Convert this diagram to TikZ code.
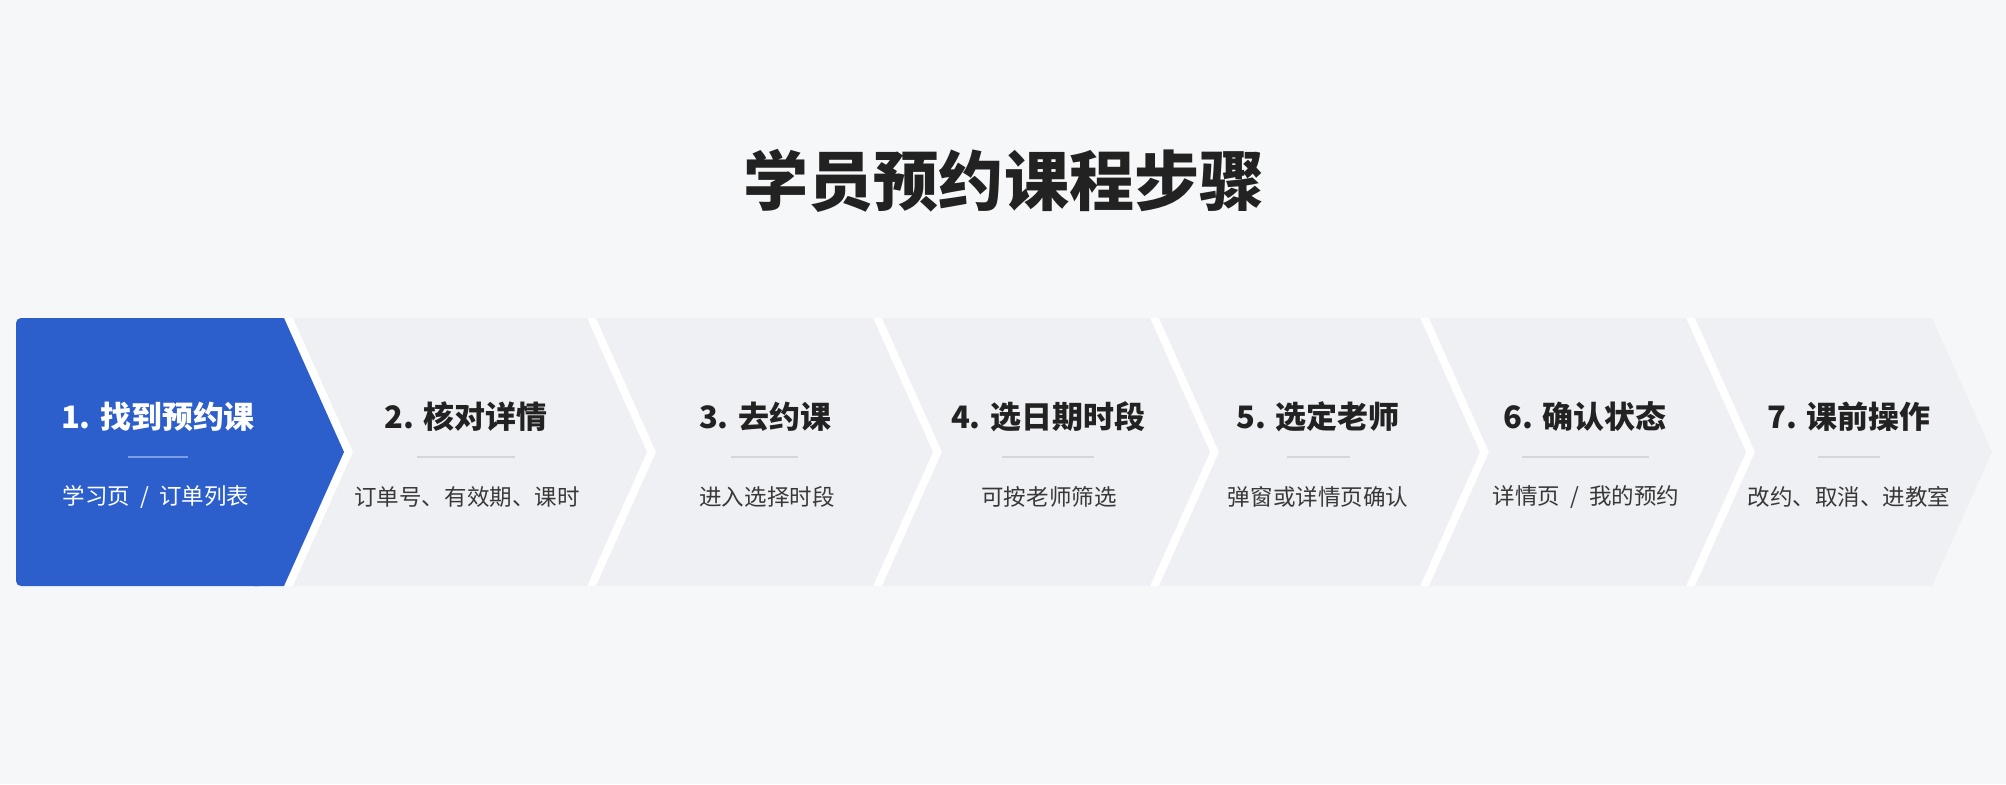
\documentclass[tikz,border=0pt]{standalone}
\usepackage{fontspec}
\setmainfont{Noto Sans CJK SC}
\usetikzlibrary{calc}

\definecolor{pagebg}{HTML}{F6F7F9}
\definecolor{stepblue}{HTML}{2C5FCC}
\definecolor{stepgray}{HTML}{EEF0F4}
\definecolor{inkdark}{HTML}{222222}
\definecolor{rulegray}{HTML}{D3D7DD}
\definecolor{ruleblue}{HTML}{7D9CE8}

\tikzset{
  headline/.style={font=\bfseries\fontsize{18.5pt}{22pt}\selectfont, text=inkdark, inner sep=0pt},
  steptitle/.style={font=\bfseries\fontsize{8.8pt}{10pt}\selectfont, text=inkdark, inner sep=0pt},
  stepnote/.style={font=\fontsize{6.4pt}{8pt}\selectfont, text=inkdark!90, inner sep=0pt},
  steprule/.style={rulegray, line width=0.025cm},
}

\begin{document}
\begin{tikzpicture}[x=0.01cm,y=-0.01cm]
        \pgfmathsetmacro{\yt}{318}
        \pgfmathsetmacro{\yb}{586}
        \pgfmathsetmacro{\ym}{452}
        \pgfmathsetmacro{\dd}{60}
        \pgfmathsetmacro{\gp}{9}
        \pgfmathsetmacro{\rA}{284}
        \pgfmathsetmacro{\rB}{587}
        \pgfmathsetmacro{\rC}{873}
        \pgfmathsetmacro{\rD}{1150}
        \pgfmathsetmacro{\rE}{1420}
        \pgfmathsetmacro{\rF}{1686}
        \pgfmathsetmacro{\rG}{1932}
        \fill[pagebg] (0,0) rectangle (2006,784);
        \useasboundingbox (0,0) rectangle (2006,784);
        \node[headline] (head) at (1004,181) {学员预约课程步骤};
        % white band shows through the gaps
        \fill[white] (\rA,\yt) rectangle (\rG,\yb);
        \fill[stepblue, rounded corners=0.05cm] (16,\yt) rectangle ({\rA-20},\yb);
        \fill[stepblue] ({\rA-30},\yt) -- (\rA,\yt) -- ({\rA+\dd},\ym) -- (\rA,\yb) -- ({\rA-30},\yb) -- cycle;
        \fill[stepgray] ({\rA+\gp},\yt) -- (\rB,\yt) -- ({\rB+\dd},\ym) -- (\rB,\yb) -- ({\rA+\gp},\yb) -- ({\rA+\gp+\dd},\ym) -- cycle;
        \fill[stepgray] ({\rB+\gp},\yt) -- (\rC,\yt) -- ({\rC+\dd},\ym) -- (\rC,\yb) -- ({\rB+\gp},\yb) -- ({\rB+\gp+\dd},\ym) -- cycle;
        \fill[stepgray] ({\rC+\gp},\yt) -- (\rD,\yt) -- ({\rD+\dd},\ym) -- (\rD,\yb) -- ({\rC+\gp},\yb) -- ({\rC+\gp+\dd},\ym) -- cycle;
        \fill[stepgray] ({\rD+\gp},\yt) -- (\rE,\yt) -- ({\rE+\dd},\ym) -- (\rE,\yb) -- ({\rD+\gp},\yb) -- ({\rD+\gp+\dd},\ym) -- cycle;
        \fill[stepgray] ({\rE+\gp},\yt) -- (\rF,\yt) -- ({\rF+\dd},\ym) -- (\rF,\yb) -- ({\rE+\gp},\yb) -- ({\rE+\gp+\dd},\ym) -- cycle;
        \fill[stepgray] ({\rF+\gp},\yt) -- (\rG,\yt) -- ({\rG+\dd},\ym) -- (\rG,\yb) -- ({\rF+\gp},\yb) -- ({\rF+\gp+\dd},\ym) -- cycle;
        % step titles
        \node[steptitle, text=white] (t1) at (158,417) {1. 找到预约课};
        \node[steptitle] (t2) at (466,417) {2. 核对详情};
        \node[steptitle] (t3) at (765,417) {3. 去约课};
        \node[steptitle] (t4) at (1048,417) {4. 选日期时段};
        \node[steptitle] (t5) at (1318,417) {5. 选定老师};
        \node[steptitle] (t6) at (1585,417) {6. 确认状态};
        \node[steptitle] (t7) at (1849,417) {7. 课前操作};
        % short rules
        \draw[steprule, ruleblue] (128,457) -- (188,457);
        \draw[steprule] (417,457) -- (515,457);
        \draw[steprule] (731,457) -- (798,457);
        \draw[steprule] (1002,457) -- (1094,457);
        \draw[steprule] (1287,457) -- (1350,457);
        \draw[steprule] (1522,457) -- (1649,457);
        \draw[steprule] (1818,457) -- (1880,457);
        % notes
        \node[stepnote, text=white] (n1) at (156,497) {学习页\ \ /\ \ 订单列表};
        \node[stepnote] (n2) at (467,497) {订单号、有效期、课时};
        \node[stepnote] (n3) at (767,497) {进入选择时段};
        \node[stepnote] (n4) at (1049,497) {可按老师筛选};
        \node[stepnote] (n5) at (1318,497) {弹窗或详情页确认};
        \node[stepnote] (n6) at (1586,497) {详情页\ \ /\ \ 我的预约};
        \node[stepnote] (n7) at (1849,497) {改约、取消、进教室};
\end{tikzpicture}
\end{document}
